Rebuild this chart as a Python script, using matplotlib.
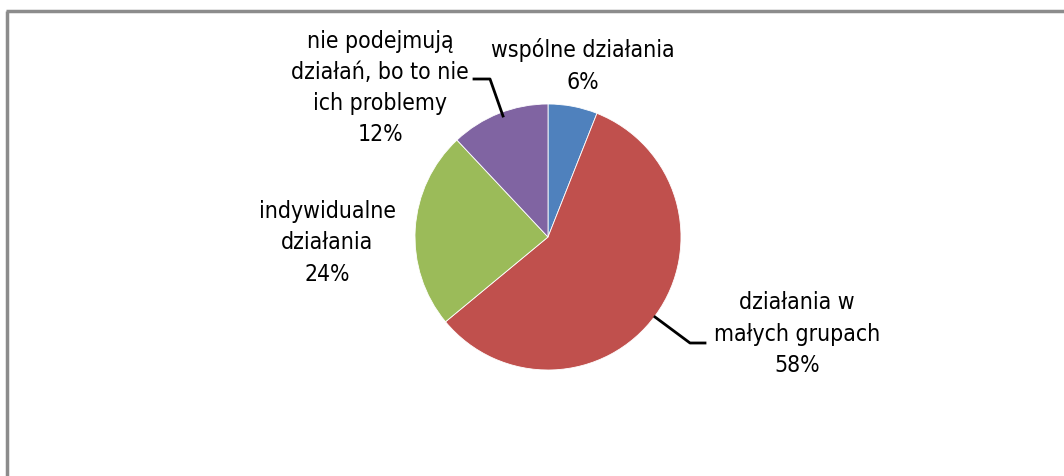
import matplotlib
matplotlib.use("Agg")
import matplotlib.pyplot as plt

# slices, clockwise from 12 o'clock
labels = ["wspólne działania", "działania w\nmałych grupach",
          "indywidualne\ndziałania", "nie podejmują\ndziałań, bo to nie\nich problemy"]
shares = [6, 58, 24, 12]
colors = ["#4f81bd", "#c0504d", "#9bbb59", "#8064a2"]

W, H = 1064, 477
fig = plt.figure(figsize=(W / 100, H / 100), dpi=100)
ax = fig.add_axes([0, 0, 1, 1])


def py(y):
    # image pixel row -> data y
    return H - y


cx, cy, r = 548, py(238), 133
ax.pie(shares, colors=colors, startangle=90, counterclock=False,
       center=(cx, cy), radius=r, frame=True,
       wedgeprops=dict(linewidth=0.6, edgecolor="white"))
ax.set_xlim(0, W)
ax.set_ylim(0, H)
ax.set_aspect("equal")
ax.axis("off")

# chart frame (right and bottom edges fall outside the picture)
ax.plot([7, 7], [py(12), py(490)], color="#8c8c8c", lw=2.5, solid_capstyle="butt")
ax.plot([6, W + 10], [py(12), py(12)], color="#8c8c8c", lw=2.5, solid_capstyle="butt")

font = dict(family="DejaVu Sans", stretch="condensed", size=16.5,
            ha="center", va="center", linespacing=1.45)
label_pos = [(583, 66), (797, 334), (327, 243), (380, 88)]
for lab, s, (x, y) in zip(labels, shares, label_pos):
    ax.text(x, py(y), f"{lab}\n{s}%", **font)

# leader lines
ax.plot([474, 490, 503], [py(80), py(80), py(117)], color="black", lw=2)
ax.plot([655, 690, 705], [py(318), py(344), py(344)], color="black", lw=2)

fig.savefig("out.png", dpi=100)
